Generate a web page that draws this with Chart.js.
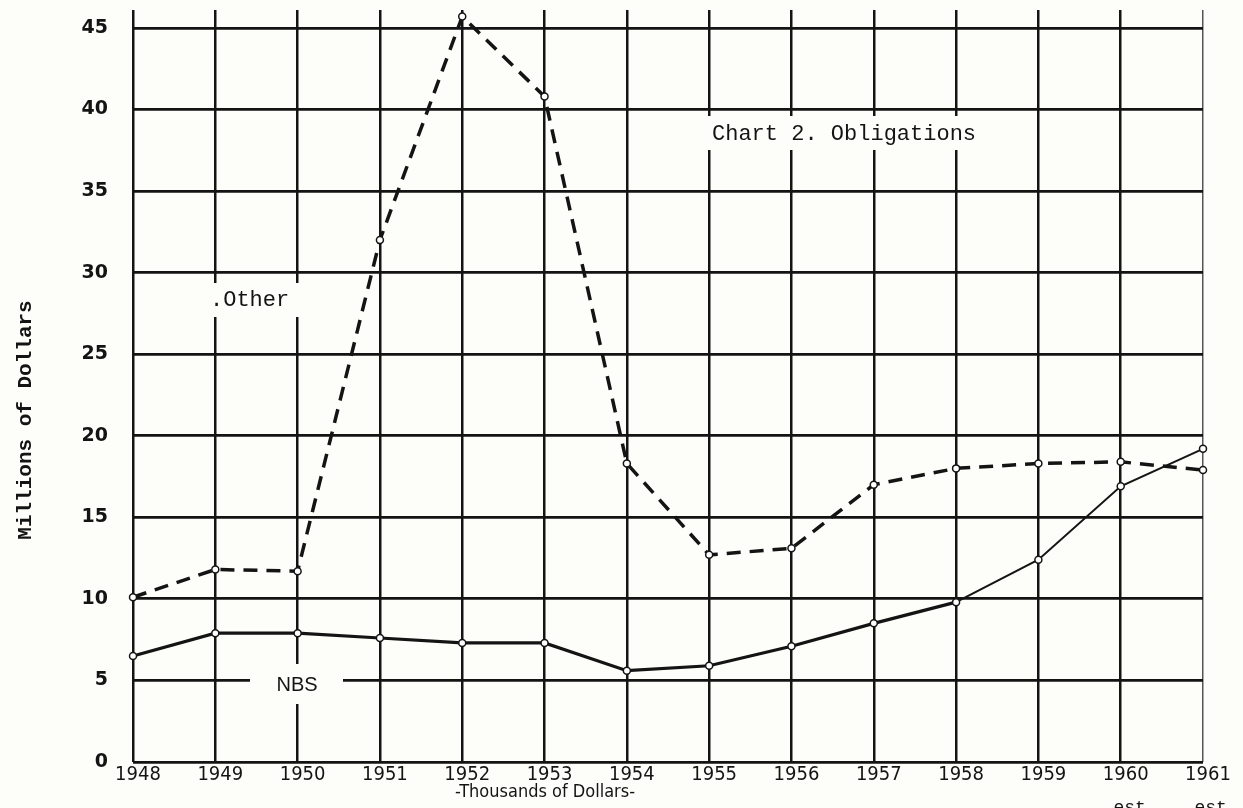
<!DOCTYPE html>
<html>
<head>
<meta charset="utf-8">
<script src="https://cdn.jsdelivr.net/npm/chart.js@4.4.1/dist/chart.umd.min.js"></script>
<style>
  html, body { margin: 0; padding: 0; background: #fdfdf9; }
  #wrap { width: 1243px; height: 808px; position: relative; }
</style>
</head>
<body>
<div id="wrap"><canvas id="c"></canvas></div>
<script>
// ---- data ----
const years = ["1948","1949","1950","1951","1952","1953","1954","1955","1956","1957","1958","1959","1960","1961"];
const nbs   = [6.5, 7.9, 7.9, 7.6, 7.3, 7.3, 5.6, 5.9, 7.1, 8.5, 9.8, 12.4, 16.9, 19.2];
const other = [10.1, 11.8, 11.7, 32.0, 45.7, 40.8, 18.3, 12.7, 13.1, 17.0, 18.0, 18.3, 18.4, 17.9];
const yTickValues = [0, 5, 10, 15, 20, 25, 30, 35, 40, 45];
const yMax = 46.1;

const INK = '#141414';
const PAPER = '#fdfdf9';

const paperPlugin = {
  id: 'paper',
  beforeDraw(chart) {
    const ctx = chart.ctx;
    ctx.save();
    ctx.fillStyle = PAPER;
    ctx.fillRect(0, 0, chart.width, chart.height);
    ctx.restore();
  }
};

const notesPlugin = {
  id: 'notes',
  afterDraw(chart) {
    const ctx = chart.ctx;
    ctx.save();
    ctx.fillStyle = PAPER;
    ctx.fillRect(697, 116, 305, 34);
    ctx.fillRect(205, 283, 98, 34);
    ctx.fillRect(250, 664, 93, 40);

    ctx.fillStyle = INK;
    ctx.textBaseline = 'middle';
    ctx.textAlign = 'left';
    ctx.font = '22px "Liberation Mono", "DejaVu Sans Mono", monospace';
    ctx.fillText('Chart 2. Obligations', 712, 134);
    ctx.fillText('.Other', 210, 300);

    ctx.font = '20px "Liberation Sans", sans-serif';
    ctx.textAlign = 'center';
    ctx.fillText('NBS', 297, 685);

    ctx.font = '18px "DejaVu Sans Condensed", "Liberation Sans Narrow", sans-serif';
    ctx.fillText('-Thousands of Dollars-', 545, 792);

    ctx.textBaseline = 'alphabetic';
    ctx.font = '18px "Liberation Mono", monospace';
    ctx.fillText('est.', 1135, 813);
    ctx.fillText('est.', 1216, 813);

    ctx.translate(26, 420);
    ctx.rotate(-Math.PI / 2);
    ctx.textBaseline = 'middle';
    ctx.font = 'bold 21px "Liberation Mono", "DejaVu Sans Mono", monospace';
    ctx.fillText('Millions of Dollars', 0, 0);
    ctx.restore();
  }
};

new Chart(document.getElementById('c'), {
  type: 'line',
  data: {
    labels: years,
    datasets: [
      {
        label: 'Other',
        data: other,
        borderColor: INK,
        borderWidth: 3.5,
        borderDash: [14, 9],
        pointRadius: 3.5,
        pointBackgroundColor: '#ffffff',
        pointBorderColor: INK,
        pointBorderWidth: 1.5,
        tension: 0,
        clip: false
      },
      {
        label: 'NBS',
        data: nbs,
        borderColor: INK,
        borderWidth: 3,
        segment: {
          borderWidth: c => (c.p0DataIndex >= 10 ? 2 : 3.2)
        },
        pointRadius: 3.5,
        pointBackgroundColor: '#ffffff',
        pointBorderColor: INK,
        pointBorderWidth: 1.5,
        tension: 0,
        clip: false
      }
    ]
  },
  options: {
    responsive: true,
    maintainAspectRatio: false,
    animation: false,
    layout: { padding: { top: 10, right: 40, left: 0, bottom: 0 } },
    plugins: {
      legend: { display: false },
      tooltip: { enabled: false },
      title: { display: false }
    },
    scales: {
      x: {
        type: 'category',
        offset: false,
        grid: {
          color: c => (c.index === 13 ? '#555555' : INK),
          lineWidth: c => (c.index === 13 ? 1.5 : 2.5),
          drawTicks: false
        },
        border: { display: false },
        ticks: {
          color: INK,
          padding: 1,
          labelOffset: 5,
          maxRotation: 0,
          autoSkip: false,
          font: { family: '"DejaVu Sans Condensed", "Liberation Sans Narrow", sans-serif', size: 20 }
        },
        afterFit(scale) { scale.height = 46; scale.paddingLeft = 0; scale.paddingRight = 0; }
      },
      y: {
        min: 0,
        max: yMax,
        grid: { color: INK, lineWidth: 2.8, drawTicks: false },
        border: { display: false },
        afterBuildTicks(scale) { scale.ticks = yTickValues.map(v => ({ value: v })); },
        ticks: {
          color: INK,
          padding: 25,
          font: { family: '"DejaVu Sans", sans-serif', size: 19, weight: 'bold' }
        },
        afterFit(scale) { scale.width = 133; scale.paddingTop = 0; scale.paddingBottom = 0; }
      }
    }
  },
  plugins: [paperPlugin, notesPlugin]
});
</script>
</body>
</html>
